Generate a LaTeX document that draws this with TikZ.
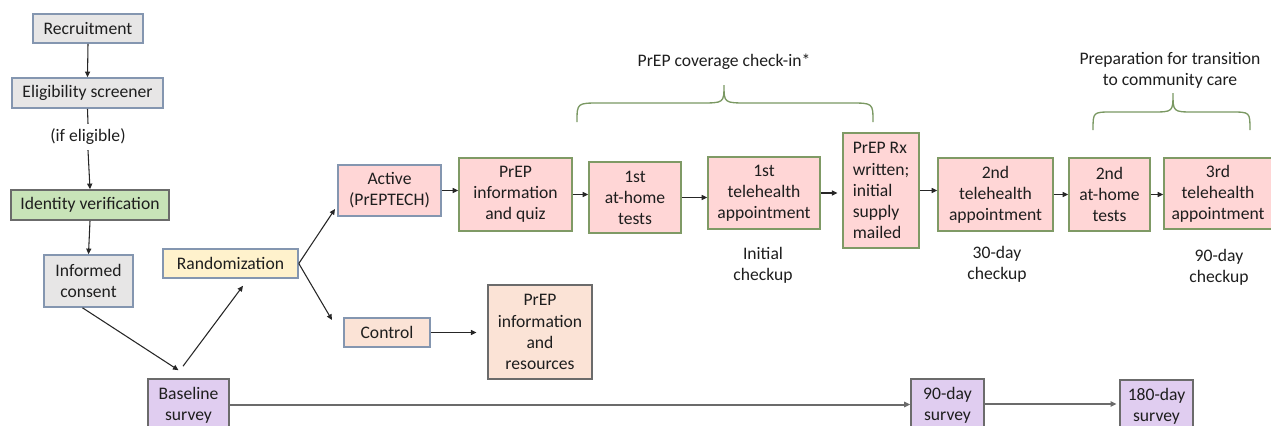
\documentclass[tikz,border=0pt]{standalone}
\usepackage{fontspec}
\setmainfont{Carlito}
\usetikzlibrary{arrows.meta,calc}
\definecolor{graybg}{HTML}{E7E6E6}
\definecolor{bluegray}{HTML}{8496B0}
\definecolor{greenbg}{HTML}{C8E3B8}
\definecolor{yellowbg}{HTML}{FFF2CC}
\definecolor{pinkbg}{HTML}{FFD6D6}
\definecolor{peachbg}{HTML}{FBE3D6}
\definecolor{purplebg}{HTML}{E0CDF0}
\definecolor{olive}{HTML}{7F9A65}
\definecolor{darkline}{HTML}{6B6B6B}
\definecolor{txt}{HTML}{1E1E1E}
\definecolor{bracec}{HTML}{7A9862}
\tikzset{
  sz/.style 2 args={minimum width=#1*0.75pt, minimum height=#2*0.75pt},
  box/.style={draw, line width=1.2pt, inner sep=1pt, align=center, text=txt,
    font=\fontsize{13.2}{15.8}\selectfont},
  graybox/.style={box, fill=graybg, draw=bluegray},
  greenbox/.style={box, fill=greenbg, draw=darkline},
  yellowbox/.style={box, fill=yellowbg, draw=bluegray},
  pinkbox/.style={box, fill=pinkbg, draw=bluegray},
  timebox/.style={box, fill=pinkbg, draw=olive},
  peachbox/.style={box, fill=peachbg, draw=bluegray},
  peachdark/.style={box, fill=peachbg, draw=darkline},
  purplebox/.style={box, fill=purplebg, draw=darkline},
  lbl/.style={text=txt, align=center, inner sep=0pt, font=\fontsize{13.2}{15.8}\selectfont},
  arr/.style={-{Triangle[length=4.2pt,width=3.8pt]}, line width=0.8pt, draw=black!85},
  ln/.style={line width=0.8pt, draw=black!85},
  survline/.style={-{Triangle[length=4.5pt,width=4pt]}, line width=1.5pt, draw=darkline},
  brace/.style={draw=bracec, line width=1pt}
}
\begin{document}
\begin{tikzpicture}[x=0.75pt, y=-0.75pt]
\useasboundingbox (0,0) rectangle (1271,425);
\clip (0,0) rectangle (1271,425);
% left column
\node[graybox, sz={110}{29}] (rec) at (88,28.5) {Recruitment};
\node[graybox, sz={151}{30}] (elig) at (87.5,93) {Eligibility screener};
\node[lbl] (ifel) at (88,137) {(if eligible)};
\node[greenbox, sz={158}{30}] (idv) at (90,205) {Identity verification};
\node[graybox, sz={89}{52}] (ic) at (88.5,281) {Informed\\consent};
\node[yellowbox, sz={135}{29}] (rand) at (230.5,263.5) {Randomization};
\node[purplebox, sz={81}{53}] (base) at (188.5,405.5) {Baseline\\survey};
% active arm
\node[pinkbox, sz={103}{51}] (act) at (389.5,190.5) {Active\\(PrEPTECH)};
\node[timebox, sz={113}{73}] (piq) at (515.5,194.5) {PrEP\\information\\and quiz};
\node[timebox, sz={92}{71}] (t1) at (635,197.5) {1st\\at-home\\tests};
\node[timebox, sz={112}{72}] (th1) at (764,193) {1st\\telehealth\\appointment};
\node[timebox, sz={76}{115}, align=left] (rx) at (881,190.5) {PrEP Rx\\written;\\initial\\supply\\mailed};
\node[timebox, sz={115}{73}] (th2) at (995.5,194.5) {2nd\\telehealth\\appointment};
\node[timebox, sz={81}{73}] (t2) at (1109.5,194.5) {2nd\\at-home\\tests};
\node[timebox, sz={108}{71}] (th3) at (1218,193.5) {3rd\\telehealth\\appointment};
% checkup labels
\node[lbl] (ick) at (763,265.5) {Initial\\checkup};
\node[lbl] (ck30) at (997,264) {30-day\\checkup};
\node[lbl] (ck90) at (1219,267) {90-day\\checkup};
% control arm
\node[peachbox, sz={86}{29}] (ctl) at (387,332.5) {Control};
\node[peachdark, sz={104}{94}] (pir) at (540,332) {PrEP\\information\\and\\resources};
% surveys
\node[purplebox, sz={73}{53}] (s90) at (947.5,405.5) {90-day\\survey};
\node[purplebox, sz={73}{52}] (s180) at (1156.5,406) {180-day\\survey};
% brace labels
\node[lbl] (cov) at (724,62) {PrEP coverage check-in*};
\node[lbl] (prep) at (1170,70) {Preparation for transition\\to community care};
% connectors
\draw[arr] (rec.south) -- (elig.north);
\draw[ln] (elig.south) -- ([yshift=3.75pt]ifel.north);
\draw[arr] ([yshift=-3.75pt]ifel.south) -- (idv.north);
\draw[arr] (idv.south) -- (ic.north);
\coordinate (icb) at ($(ic.south)+(-6,0)$);
\coordinate (bt1) at ($(base.north)+(-10,-8)$);
\draw[arr] (icb) -- (bt1);
\coordinate (bt2) at ($(base.north)+(-5.5,-12)$);
\coordinate (rb) at ($(rand.south)+(12.5,7)$);
\draw[arr] (bt2) -- (rb);
\coordinate (actin) at (335,209);
\coordinate (ctlin) at (332,320);
\draw[arr] (rand.east) -- (actin);
\draw[arr] (rand.east) -- (ctlin);
\draw[arr] (act.east) -- (act.east -| piq.west);
\draw[arr] (piq.east) -- (piq.east -| t1.west);
\draw[arr] (t1.east) -- (t1.east -| th1.west);
\draw[arr, shorten >=3.5pt] (th1.east) -- (th1.east -| rx.west);
\draw[arr] (rx.east) -- (rx.east -| th2.west);
\draw[arr] (th2.east) -- (th2.east -| t2.west);
\draw[arr] (t2.east) -- (t2.east -| th3.west);
\draw[arr, shorten >=8pt] (ctl.east) -- (ctl.east -| pir.west);
\draw[survline] ([yshift=0.75pt]base.east) -- ([yshift=0.75pt]base.east -| s90.west);
\draw[survline, shorten >=2pt] ([yshift=1.1pt]s90.east) -- ([yshift=1.1pt]s90.east -| s180.west);
% braces
\draw[brace] (577,122) .. controls (577,103) .. (600,103) -- (700,103)
  .. controls (724,103) .. (724,85) .. controls (724,103) .. (748,103) -- (850,103)
  .. controls (873,103) .. (873,122);
\draw[brace] (1093,130) .. controls (1093,112) .. (1112,112) -- (1152,112)
  .. controls (1173,112) .. (1173,93) .. controls (1173,112) .. (1194,112) -- (1231,112)
  .. controls (1250,112) .. (1250,130);
\end{tikzpicture}
\end{document}
